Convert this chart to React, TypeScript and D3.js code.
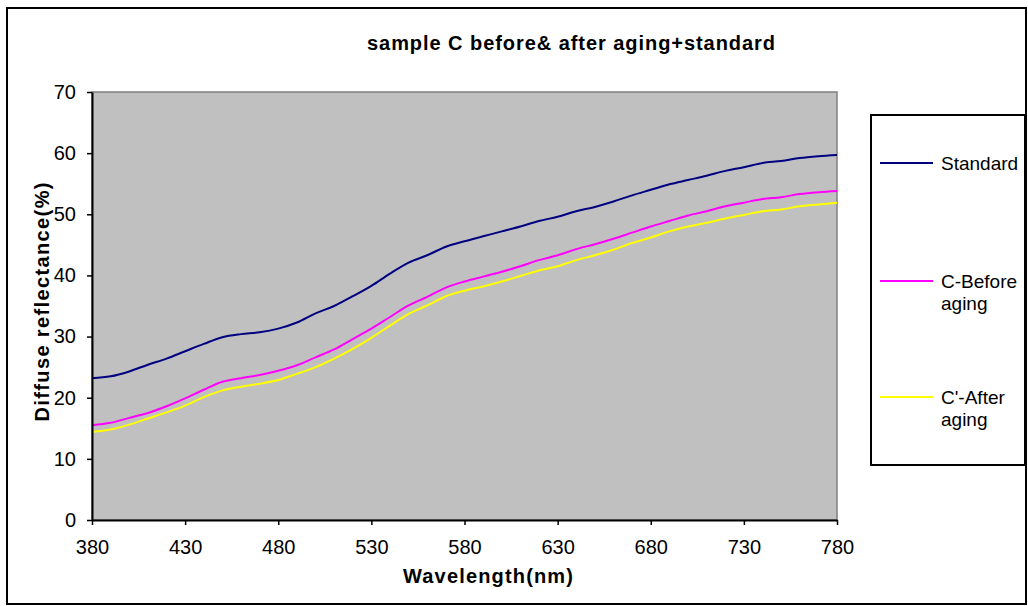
import { useEffect, useRef } from 'react';
import * as d3 from 'd3';

// wavelength (nm), sampled every 10 nm
const wavelengths = [
  380, 390, 400, 410, 420, 430, 440, 450, 460, 470, 480, 490, 500, 510, 520, 530, 540, 550, 560, 570,
  580, 590, 600, 610, 620, 630, 640, 650, 660, 670, 680, 690, 700, 710, 720, 730, 740, 750, 760, 770, 780,
];

const standard = [
  23.2, 23.5, 24.3, 25.4, 26.4, 27.6, 28.8, 29.9, 30.4, 30.7, 31.3, 32.3, 33.8, 35.0, 36.6, 38.3, 40.3, 42.1, 43.3, 44.7,
  45.6, 46.4, 47.2, 48.0, 48.9, 49.6, 50.5, 51.2, 52.1, 53.1, 54.0, 54.9, 55.6, 56.3, 57.1, 57.7, 58.4, 58.7, 59.2, 59.5, 59.7,
];

const beforeAging = [
  15.5, 15.9, 16.7, 17.5, 18.6, 19.9, 21.3, 22.6, 23.2, 23.7, 24.4, 25.3, 26.6, 27.9, 29.6, 31.3, 33.2, 35.1, 36.5, 38.0,
  39.0, 39.8, 40.6, 41.5, 42.5, 43.3, 44.3, 45.1, 46.0, 47.0, 48.0, 48.9, 49.8, 50.5, 51.3, 51.9, 52.5, 52.8, 53.3, 53.6, 53.8,
];

const afterAging = [
  14.4, 14.8, 15.6, 16.6, 17.6, 18.7, 20.1, 21.2, 21.8, 22.3, 22.9, 23.9, 25.0, 26.4, 28.0, 29.8, 31.8, 33.7, 35.1, 36.6,
  37.5, 38.2, 39.0, 39.9, 40.8, 41.5, 42.5, 43.3, 44.2, 45.3, 46.2, 47.2, 48.0, 48.6, 49.3, 49.9, 50.5, 50.8, 51.3, 51.6, 51.9,
];

const xTicks = [380, 430, 480, 530, 580, 630, 680, 730, 780];
const yTicks = [0, 10, 20, 30, 40, 50, 60, 70];

const seriesNames = ['Standard', 'C-Before\naging', "C'-After\naging"];
const seriesColors = ['#000080', '#ff00ff', '#ffff00'];

const App = () => {
  const svgRef = useRef(null);

  useEffect(() => {
    const width = 1028;
    const height = 606;
    const font = 'Arial, "Liberation Sans", sans-serif';

    d3.select(svgRef.current).selectAll('*').remove();

    const svg = d3.select(svgRef.current)
      .attr('width', width)
      .attr('height', height);

    // Outer chart border
    svg.append('rect')
      .attr('x', 7)
      .attr('y', 8)
      .attr('width', 1019)
      .attr('height', 596)
      .attr('fill', 'white')
      .attr('stroke', 'black')
      .attr('stroke-width', 2);

    // Plot area
    const plot = { left: 92, right: 837, top: 92, bottom: 520 };

    const x = d3.scaleLinear()
      .domain([380, 780])
      .range([plot.left, plot.right]);

    const y = d3.scaleLinear()
      .domain([0, 70])
      .range([plot.bottom, plot.top]);

    svg.append('rect')
      .attr('x', plot.left)
      .attr('y', plot.top)
      .attr('width', plot.right - plot.left)
      .attr('height', plot.bottom - plot.top)
      .attr('fill', '#c0c0c0')
      .attr('stroke', '#808080')
      .attr('stroke-width', 1.5);

    // Lines
    const allSeries = [standard, beforeAging, afterAging];
    const line = d3.line()
      .x((d, i) => x(wavelengths[i]))
      .y(d => y(d))
      .curve(d3.curveMonotoneX);

    allSeries.forEach((values, i) => {
      svg.append('path')
        .datum(values)
        .attr('d', line)
        .attr('fill', 'none')
        .attr('stroke', seriesColors[i])
        .attr('stroke-width', 2);
    });

    // Axes
    const xAxis = svg.append('g')
      .attr('transform', `translate(0,${plot.bottom})`)
      .call(d3.axisBottom(x).tickValues(xTicks).tickSize(5).tickSizeOuter(0).tickPadding(15));

    const yAxis = svg.append('g')
      .attr('transform', `translate(${plot.left},0)`)
      .call(d3.axisLeft(y).tickValues(yTicks).tickSize(5).tickSizeOuter(0).tickPadding(11));

    [xAxis, yAxis].forEach(g => {
      g.select('.domain').attr('stroke', 'black').attr('stroke-width', 2);
      g.selectAll('.tick line').attr('stroke', 'black').attr('stroke-width', 1.5);
      g.selectAll('.tick text')
        .attr('fill', 'black')
        .style('font-family', font)
        .style('font-size', '20px');
    });

    // Title
    svg.append('text')
      .attr('x', 571)
      .attr('y', 50)
      .attr('text-anchor', 'middle')
      .attr('textLength', 408)
      .attr('lengthAdjust', 'spacing')
      .style('font-family', font)
      .style('font-size', '20px')
      .style('font-weight', 'bold')
      .text('sample C before& after aging+standard');

    // X axis label
    svg.append('text')
      .attr('x', 488)
      .attr('y', 583)
      .attr('text-anchor', 'middle')
      .attr('textLength', 170)
      .attr('lengthAdjust', 'spacing')
      .style('font-family', font)
      .style('font-size', '20px')
      .style('font-weight', 'bold')
      .text('Wavelength(nm)');

    // Y axis label
    svg.append('text')
      .attr('transform', 'rotate(-90)')
      .attr('x', -302)
      .attr('y', 49)
      .attr('text-anchor', 'middle')
      .attr('textLength', 239)
      .attr('lengthAdjust', 'spacing')
      .style('font-family', font)
      .style('font-size', '20px')
      .style('font-weight', 'bold')
      .text('Diffuse reflectance(%)');

    // Legend
    svg.append('rect')
      .attr('x', 871)
      .attr('y', 115)
      .attr('width', 154)
      .attr('height', 350)
      .attr('fill', 'white')
      .attr('stroke', 'black')
      .attr('stroke-width', 2);

    const legendY = [163, 281, 397];
    seriesNames.forEach((name, i) => {
      const g = svg.append('g').attr('transform', `translate(880,${legendY[i]})`);
      g.append('line')
        .attr('x1', 0)
        .attr('x2', 53)
        .attr('stroke', seriesColors[i])
        .attr('stroke-width', 2);
      const text = g.append('text')
        .attr('x', 61)
        .attr('y', 7)
        .style('font-family', font)
        .style('font-size', '19px');
      name.split('\n').forEach((part, j) => {
        text.append('tspan')
          .attr('x', 61)
          .attr('dy', j === 0 ? 0 : 22)
          .text(part);
      });
    });
  }, []);

  return <svg ref={svgRef} style={{ position: 'absolute', left: 0, top: 0 }}></svg>;
};

export default App;
